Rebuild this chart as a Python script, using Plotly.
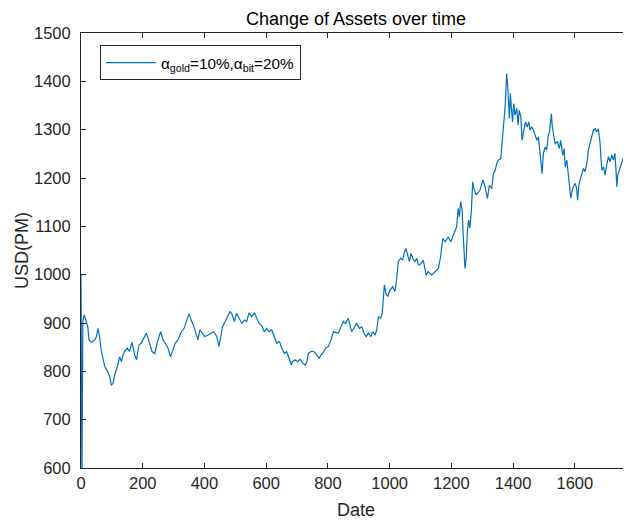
import plotly.graph_objects as go

days = [0, 3, 6, 10, 17, 22, 26, 34, 45, 50, 55, 61, 66, 77, 86, 93, 98, 104, 109, 118,
        125, 131, 136, 141, 150, 157, 165, 174, 180, 188, 195, 204, 212, 219, 230, 239,
        248, 258, 266, 273, 282, 290, 298, 305, 314, 325, 334, 341, 350, 357, 366, 374,
        379, 385, 392, 401, 412, 422, 430, 440, 447, 453, 458, 467, 475, 483, 490, 497,
        504, 512, 521, 529, 537, 544, 553, 562, 569, 577, 586, 594, 602, 609, 618, 626,
        634, 643, 650, 659, 666, 674, 681, 685, 694, 702, 710, 717, 726, 732, 737, 745,
        754, 764, 771, 778, 785, 793, 801, 810, 818, 825, 834, 842, 850, 857, 866, 877,
        885, 893, 902, 910, 917, 924, 931, 939, 945, 953, 958, 964, 971, 976, 980, 983,
        988, 994, 1001, 1010, 1017, 1023, 1028, 1036, 1042, 1048, 1053, 1058, 1064, 1069,
        1075, 1082, 1088, 1093, 1098, 1109, 1118, 1125, 1136, 1147, 1158, 1165, 1172,
        1180, 1190, 1198, 1206, 1217, 1222, 1226, 1230, 1235, 1237, 1240, 1244, 1248,
        1252, 1256, 1260, 1265, 1269, 1273, 1280, 1293, 1302, 1309, 1317, 1323, 1331,
        1336, 1342, 1347, 1352, 1360, 1364, 1369, 1372, 1375, 1378, 1379, 1382, 1385,
        1388, 1391, 1394, 1398, 1402, 1406, 1412, 1416, 1420, 1425, 1429, 1433, 1440,
        1446, 1451, 1455, 1460, 1466, 1471, 1477, 1482, 1487, 1491, 1494, 1498, 1504,
        1509, 1514, 1518, 1522, 1524, 1527, 1531, 1536, 1544, 1550, 1554, 1561, 1565,
        1569, 1574, 1578, 1582, 1587, 1591, 1595, 1601, 1606, 1609, 1613, 1617, 1622,
        1628, 1633, 1639, 1644, 1649, 1655, 1660, 1666, 1671, 1676, 1682, 1685, 1688,
        1693, 1698, 1704, 1709, 1714, 1720, 1725, 1730, 1734, 1736, 1739, 1744, 1749,
        1755, 1760, 1763, 1766]

usd = [1000, 560, 905, 917, 903, 892, 865, 860, 865, 872, 889, 868, 841, 810, 800, 789,
       772, 775, 793, 810, 830, 820, 834, 841, 848, 841, 860, 834, 824, 855, 858, 868,
       879, 865, 841, 837, 862, 882, 865, 858, 848, 830, 845, 858, 865, 882, 889, 903,
       919, 906, 892, 875, 865, 886, 879, 872, 875, 879, 882, 872, 851, 872, 892, 903,
       913, 924, 917, 903, 920, 910, 899, 906, 903, 921, 913, 921, 910, 899, 894, 882,
       889, 882, 886, 872, 858, 862, 848, 837, 841, 827, 813, 820, 824, 820, 825, 818,
       813, 820, 837, 841, 841, 834, 827, 834, 839, 848, 851, 865, 882, 880, 879, 892,
       903, 899, 910, 882, 892, 899, 889, 892, 879, 872, 879, 872, 882, 875, 886, 913,
       910, 920, 955, 979, 961, 955, 968, 975, 965, 992, 1027, 1034, 1030, 1047, 1054,
       1040, 1027, 1044, 1034, 1027, 1034, 1020, 1020, 1030, 999, 1006, 999, 1006, 1013,
       1037, 1075, 1068, 1078, 1068, 1082, 1099, 1137, 1120, 1151, 1134, 1099, 1051,
       1013, 1034, 1092, 1113, 1096, 1134, 1192, 1178, 1165, 1175, 1196, 1182, 1158,
       1185, 1178, 1209, 1216, 1230, 1237, 1240, 1271, 1309, 1344, 1354, 1402, 1416,
       1395, 1347, 1323, 1375, 1340, 1316, 1354, 1330, 1344, 1309, 1340, 1327, 1278,
       1295, 1316, 1306, 1316, 1299, 1306, 1299, 1289, 1278, 1285, 1258, 1234, 1209,
       1251, 1264, 1258, 1289, 1295, 1316, 1333, 1306, 1285, 1271, 1275, 1261, 1278,
       1247, 1261, 1223, 1237, 1209, 1178, 1158, 1172, 1182, 1189, 1178, 1154, 1185,
       1196, 1206, 1220, 1213, 1230, 1258, 1271, 1289, 1299, 1302, 1295, 1302, 1271,
       1237, 1216, 1223, 1206, 1230, 1244, 1234, 1247, 1237, 1251, 1209, 1182, 1206,
       1216, 1230, 1240, 1247, 1237, 1223]

x_ticks = [0, 200, 400, 600, 800, 1000, 1200, 1400, 1600]
y_ticks = [600, 700, 800, 900, 1000, 1100, 1200, 1300, 1400, 1500]

AX = "#262626"
FONT = "Liberation Sans, Arial, Helvetica, sans-serif"

fig = go.Figure()
fig.add_trace(go.Scatter(
    x=days, y=usd, mode="lines",
    line=dict(color="#0072BD", width=1.2),
    name="\u03b1<sub>gold</sub>=10%,\u03b1<sub>bit</sub>=20%",
))

fig.update_layout(
    width=631, height=523,
    margin=dict(l=73, r=8, t=24.5, b=62.7, autoexpand=False),
    paper_bgcolor="white", plot_bgcolor="white",
    font=dict(family=FONT, color=AX, size=16),
    title=dict(text="Change of Assets over time", x=0.5, xref="paper", xanchor="center",
               y=1 - 11 / 523, yref="container", yanchor="middle",
               font=dict(size=18, color="black", family=FONT)),
    showlegend=True,
    legend=dict(x=0.0345, y=0.972, xanchor="left", yanchor="top",
                bordercolor=AX, borderwidth=1, bgcolor="white",
                font=dict(size=15.3, color="black", family=FONT),
                itemwidth=50),
    xaxis=dict(range=[0, 1782], tickvals=x_ticks, ticks="inside", ticklen=5,
               tickcolor=AX, showline=True, linecolor=AX, linewidth=1,
               mirror="ticks", showgrid=False, zeroline=False, automargin=False,
               title=dict(text="Date", font=dict(size=18, color=AX), standoff=12),
               tickfont=dict(size=16.5, color=AX)),
    yaxis=dict(range=[600, 1500], tickvals=y_ticks, ticks="inside", ticklen=5,
               tickcolor=AX, showline=True, linecolor=AX, linewidth=1,
               mirror=False, showgrid=False, zeroline=False, automargin=False,
               ticklabelstandoff=6,
               title=dict(text="USD(PM)", font=dict(size=18, color=AX), standoff=0),
               tickfont=dict(size=16.5, color=AX)),
)

fig.write_html("out.html")
